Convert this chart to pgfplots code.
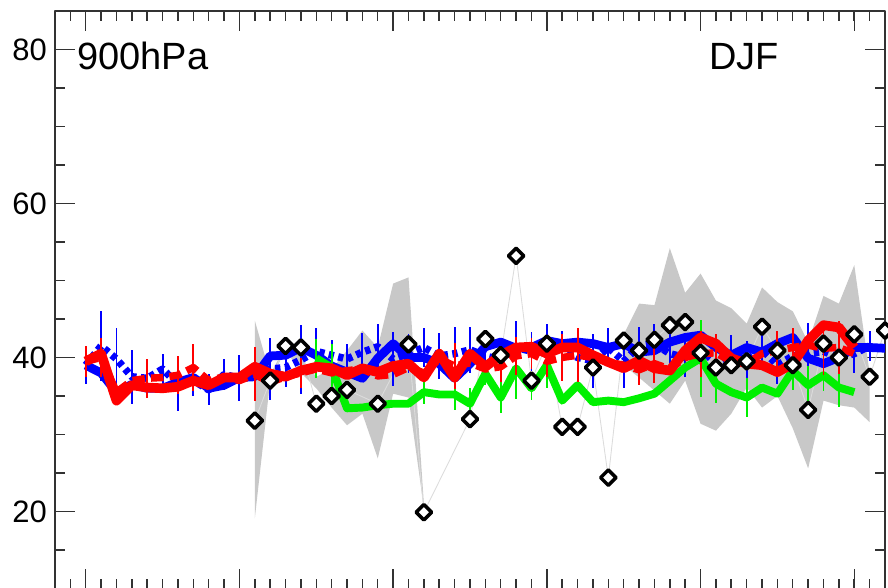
\documentclass[border=0pt]{standalone}
\usepackage{fontspec}
\setmainfont{Liberation Sans}
\usepackage{pgfplots}
\pgfplotsset{compat=1.18}

\definecolor{bandgray}{RGB}{200,200,200}
\definecolor{axisgray}{RGB}{50,50,50}
\definecolor{obsline}{RGB}{220,220,220}
\definecolor{lgreen}{RGB}{0,240,0}

\begin{document}
\begin{tikzpicture}
\begin{axis}[
  name=ax,
  scale only axis,
  width=16.6cm, height=11.55cm,
  xmin=1958, xmax=2012, ymin=10, ymax=85,
  xtick={1960,1970,...,2010},
  minor xtick={1958,1959,...,2012},
  ytick={20,40,60,80},
  minor ytick={10,15,...,85},
  xticklabels={},
  tick align=inside,
  major tick length=0.4cm, minor tick length=0.2cm,
  axis line style={axisgray, line width=0.85pt},
  tick style={axisgray, line width=0.85pt},
  tick label style={font=\fontsize{17.6}{20}\selectfont},
  yticklabel style={xshift=-0.04cm},
  /pgf/number format/assume math mode=true,
  line join=round,
]

% --- spread of observations (grey band), two pieces
\addplot[fill=bandgray, draw=none] coordinates {
  (1971,44.8) (1972,37.8) (1973,41.5) (1974,40.0) (1975,37.5) (1976,38.5)
  (1977,40.9) (1978,43.5) (1979,41.3) (1980,49.6) (1981,50.4) (1982,21.0)
  (1982,20.5) (1981,34.8) (1980,35.3) (1979,26.9) (1978,32.7) (1977,31.2)
  (1976,33.5) (1975,36.0) (1974,38.0) (1973,41.0) (1972,37.0) (1971,19.1)
} -- cycle;
\addplot[fill=bandgray, draw=none] coordinates {
  (1995,43.0) (1996,47.0) (1997,46.8) (1998,54.2) (1999,48.4) (2000,50.9)
  (2001,47.4) (2002,46.4) (2003,44.4) (2004,49.1) (2005,47.2) (2006,46.0)
  (2007,42.0) (2008,48.0) (2009,47.0) (2010,52.0) (2011,38.0)
  (2011,31.6) (2010,33.5) (2009,33.8) (2008,34.4) (2007,25.6) (2006,30.8)
  (2005,35.0) (2004,33.5) (2003,36.1) (2002,32.7) (2001,30.5) (2000,31.4)
  (1999,37.0) (1998,34.0) (1997,35.7) (1996,37.4) (1995,39.0)
} -- cycle;

% --- thin line joining the observations
\addplot[obsline, line width=0.5pt] coordinates {
  (1971,31.8) (1972,37.0) (1973,41.5) (1974,41.3) (1975,34.0) (1976,35.0)
  (1977,35.8) (1979,34.0) (1981,41.7) (1982,19.9) (1985,32.0) (1986,42.4)
  (1987,40.3) (1988,53.2) (1989,37.0) (1990,41.8) (1991,31.0) (1992,31.0)
  (1993,38.7) (1994,24.4) (1995,42.2) (1996,40.9) (1997,42.3) (1998,44.2)
  (1999,44.6) (2000,40.6) (2001,38.7) (2002,39.0) (2003,39.5) (2004,44.0)
  (2005,40.9) (2006,39.0) (2007,33.2) (2008,41.8) (2009,40.0) (2010,43.0)
  (2011,37.5) (2012,43.5)
};

% --- blue dotted run with error bars
\addplot[blue, line width=4.2pt, dash pattern=on 3pt off 2.5pt,
  error bars/.cd, y dir=both, y explicit,
  error bar style={solid, line width=1.1pt, blue}, error mark=none]
coordinates {
  (1960,39.0) +- (0,2.5) (1961,41.5) +- (0,4.5) (1962,39.8) +- (0,4.0)
  (1963,37.5) +- (0,3.5) (1964,37.3) +- (0,2.0) (1965,38.5) +- (0,2.0)
  (1966,36.5) +- (0,3.5) (1967,37.0) +- (0,2.0) (1968,35.8) +- (0,2.0)
  (1969,37.8) +- (0,2.0) (1970,37.3) +- (0,3.0) (1971,37.8) +- (0,2.5)
  (1972,38.5) +- (0,4.0) (1973,38.7) +- (0,2.5) (1974,39.7) +- (0,4.5)
  (1975,40.8) +- (0,3.0) (1976,40.3) +- (0,2.0) (1977,39.8) +- (0,2.0)
  (1978,40.7) +- (0,2.5) (1979,41.4) +- (0,3.0) (1980,39.8) +- (0,3.5)
  (1981,40.5) +- (0,2.5) (1982,41.3) +- (0,2.5) (1983,40.2) +- (0,3.0)
  (1984,40.5) +- (0,3.5) (1985,41.0) +- (0,3.0) (1986,40.2) +- (0,3.0)
  (1987,39.7) +- (0,2.5) (1988,41.3) +- (0,3.5) (1989,40.8) +- (0,2.5)
  (1990,41.8) +- (0,2.5) (1991,41.0) +- (0,2.5) (1992,40.0) +- (0,3.0)
  (1993,39.6) +- (0,3.5) (1994,41.3) +- (0,2.5) (1995,39.5) +- (0,3.5)
  (1996,41.5) +- (0,2.5) (1997,41.8) +- (0,2.5) (1998,40.5) +- (0,2.5)
  (1999,40.0) +- (0,2.5) (2000,41.0) +- (0,2.5) (2001,39.3) +- (0,2.5)
  (2002,40.4) +- (0,2.5) (2003,39.7) +- (0,2.5) (2004,41.0) +- (0,2.5)
  (2005,39.0) +- (0,2.5) (2006,40.2) +- (0,2.5) (2007,40.5) +- (0,4.0)
  (2008,40.8) +- (0,2.5) (2009,40.0) +- (0,3.5) (2010,40.5) +- (0,2.5)
  (2011,41.5) +- (0,2.0)
};

% --- blue solid run
\addplot[blue, line width=5pt] coordinates {
  (1960,39.0) (1961,38.0) (1962,35.5) (1963,36.5) (1964,36.0) (1965,36.0)
  (1966,36.8) (1967,37.4) (1968,36.0) (1969,36.4) (1970,37.4) (1971,37.5)
  (1972,40.2) (1973,40.3) (1974,41.3) (1975,40.3) (1976,38.9) (1977,38.1)
  (1978,37.3) (1979,39.9) (1980,41.8) (1981,40.0) (1982,40.0) (1983,39.2)
  (1984,37.3) (1985,39.2) (1986,41.4) (1987,42.0) (1988,41.2) (1989,41.3)
  (1990,42.2) (1991,41.8) (1992,42.0) (1993,41.8) (1994,41.3) (1995,41.8)
  (1996,40.7) (1997,40.9) (1998,42.0) (1999,42.6) (2000,42.9) (2001,41.3)
  (2002,40.3) (2003,41.3) (2004,40.7) (2005,41.8) (2006,42.6) (2007,39.9)
  (2008,39.2) (2009,40.0) (2010,41.3) (2011,41.3) (2012,41.2)
};

% --- observations (open diamonds)
\addplot[only marks, mark=square*, mark size=3.1pt,
  mark options={rotate=45, draw=black, fill=white, line width=2pt}]
coordinates {
  (1971,31.8) (1972,37.0) (1973,41.5) (1974,41.3) (1975,34.0) (1976,35.0)
  (1977,35.8) (1979,34.0) (1981,41.7) (1982,19.9) (1985,32.0) (1986,42.4)
  (1987,40.3) (1988,53.2) (1989,37.0) (1990,41.8) (1991,31.0) (1992,31.0)
  (1993,38.7) (1994,24.4) (1995,42.2) (1996,40.9) (1997,42.3) (1998,44.2)
  (1999,44.6) (2000,40.6) (2001,38.7) (2002,39.0) (2003,39.5) (2004,44.0)
  (2005,40.9) (2006,39.0) (2007,33.2) (2008,41.8) (2009,40.0) (2010,43.0)
  (2011,37.5) (2012,43.5)
};

% --- green run with error bars
\addplot[lgreen, line width=4.5pt,
  error bars/.cd, y dir=both, y explicit,
  error bar style={line width=1.1pt, lgreen}, error mark=none]
coordinates {
  (1975,39.9) +- (0,2.5) (1976,38.7) +- (0,3.0) (1977,33.4) +- (0,0.0)
  (1978,33.5) +- (0,0.0) (1979,33.8) +- (0,0.0) (1980,34.0) +- (0,0.0)
  (1981,34.0) +- (0,0.0) (1982,35.5) +- (0,1.5) (1983,35.2) +- (0,0.0)
  (1984,35.2) +- (0,2.0) (1985,34.0) +- (0,2.0) (1986,37.9) +- (0,1.5)
  (1987,34.8) +- (0,2.0) (1988,38.6) +- (0,4.0) (1989,36.0) +- (0,1.5)
  (1990,39.0) +- (0,3.0) (1991,34.4) +- (0,0.0) (1992,36.4) +- (0,0.0)
  (1993,34.2) +- (0,0.0) (1994,34.4) +- (0,0.0) (1995,34.2) +- (0,0.0)
  (1996,34.7) +- (0,0.0) (1997,35.3) +- (0,0.0) (1998,37.0) +- (0,0.0)
  (1999,38.7) +- (0,0.0) (2000,39.9) +- (0,5.0) (2001,36.6) +- (0,2.5)
  (2002,35.5) +- (0,0.0) (2003,34.8) +- (0,2.5) (2004,36.1) +- (0,0.0)
  (2005,35.3) +- (0,0.0) (2006,38.3) +- (0,2.5) (2007,36.4) +- (0,2.5)
  (2008,37.7) +- (0,2.0) (2009,36.1) +- (0,2.5) (2010,35.5) +- (0,0.0)
};

% --- red dashed run with error bars
\addplot[red, line width=4.2pt, dash pattern=on 7pt off 3.5pt,
  error bars/.cd, y dir=both, y explicit,
  error bar style={solid, line width=1.1pt, red}, error mark=none]
coordinates {
  (1960,39.5) +- (0,2.0) (1961,40.0) +- (0,2.5) (1962,35.5) +- (0,0.0)
  (1963,37.0) +- (0,0.0) (1964,37.3) +- (0,2.5) (1965,37.4) +- (0,0.0)
  (1966,37.7) +- (0,2.5) (1967,38.7) +- (0,3.0) (1968,37.0) +- (0,0.0)
  (1969,37.5) +- (0,0.0) (1970,37.0) +- (0,0.0) (1971,37.8) +- (0,3.5)
  (1972,36.8) +- (0,0.0) (1973,37.5) +- (0,0.0) (1974,38.0) +- (0,2.0)
  (1975,38.5) +- (0,0.0) (1976,38.0) +- (0,0.0) (1977,38.3) +- (0,0.0)
  (1978,38.5) +- (0,0.0) (1979,37.6) +- (0,0.0) (1980,37.8) +- (0,0.0)
  (1981,38.7) +- (0,0.0) (1982,38.0) +- (0,0.0) (1983,39.8) +- (0,0.0)
  (1984,38.9) +- (0,3.0) (1985,39.3) +- (0,0.0) (1986,38.5) +- (0,0.0)
  (1987,38.8) +- (0,2.0) (1988,40.2) +- (0,2.5) (1989,40.5) +- (0,2.0)
  (1990,39.5) +- (0,2.0) (1991,40.0) +- (0,3.0) (1992,40.3) +- (0,3.5)
  (1993,40.0) +- (0,0.0) (1994,39.4) +- (0,0.0) (1995,39.0) +- (0,0.0)
  (1996,38.4) +- (0,2.0) (1997,39.2) +- (0,2.5) (1998,38.5) +- (0,0.0)
  (1999,40.0) +- (0,0.0) (2000,40.5) +- (0,3.0) (2001,40.6) +- (0,2.5)
  (2002,39.5) +- (0,0.0) (2003,39.2) +- (0,0.0) (2004,40.5) +- (0,0.0)
  (2005,40.9) +- (0,2.5) (2006,41.3) +- (0,2.5) (2007,41.6) +- (0,0.0)
  (2008,41.2) +- (0,3.5) (2009,41.3) +- (0,3.5) (2010,40.5) +- (0,0.0)
};

% --- red solid run
\addplot[red, line width=5.5pt] coordinates {
  (1960,39.5) (1961,40.5) (1962,34.4) (1963,36.4) (1964,36.1) (1965,36.0)
  (1966,36.2) (1967,37.0) (1968,36.4) (1969,37.4) (1970,37.4) (1971,38.8)
  (1972,37.9) (1973,37.5) (1974,38.3) (1975,38.8) (1976,38.6) (1977,37.7)
  (1978,38.6) (1979,38.1) (1980,38.9) (1981,39.2) (1982,37.4) (1983,40.5)
  (1984,37.4) (1985,40.5) (1986,38.8) (1987,40.3) (1988,41.3) (1989,41.4)
  (1990,40.5) (1991,41.3) (1992,41.3) (1993,40.3) (1994,39.4) (1995,38.6)
  (1996,39.6) (1997,38.6) (1998,38.3) (1999,40.9) (2000,42.6) (2001,41.8)
  (2002,39.9) (2003,39.2) (2004,39.0) (2005,38.1) (2006,39.2) (2007,42.2)
  (2008,44.2) (2009,43.9) (2010,41.3)
};

\node[anchor=base west, inner sep=0pt, font=\fontsize{21.6}{26}\selectfont]
  at (axis cs:1959.43,77.4) {900hPa};
\node[anchor=base east, inner sep=0pt, font=\fontsize{21.6}{26}\selectfont]
  at (axis cs:2005.1,77.4) {DJF};
\end{axis}
\pgfresetboundingbox
\path ([xshift=-1.1cm,yshift=0.03cm]ax.south west)
  rectangle ([xshift=0.06cm,yshift=0.22cm]ax.north east);
\end{tikzpicture}
\end{document}
